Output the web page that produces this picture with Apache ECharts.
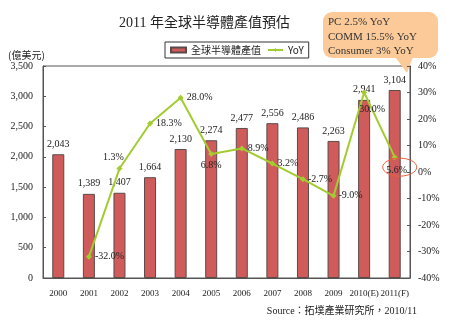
<!DOCTYPE html>
<html><head><meta charset="utf-8">
<script src="https://cdn.jsdelivr.net/npm/echarts@6/dist/echarts.min.js"></script>
<style>html,body{margin:0;padding:0;background:#fff}#c{width:450px;height:322px}</style>
</head><body><div id="c"></div>
<script>
var categories = ['2000','2001','2002','2003','2004','2005','2006','2007','2008','2009','2010(E)','2011(F)'];
var revenue = [2043,1389,1407,1664,2130,2274,2477,2556,2486,2263,2941,3104];
var yoy = [null,-32.0,1.3,18.3,28.0,6.8,8.9,3.2,-2.7,-9.0,30.0,5.6];
var leftTicks = {min:0,max:3500,interval:500};
var rightTicks = {min:-40,max:40,interval:10};
var notes = ['PC 2.5% YoY','COMM 15.5% YoY','Consumer 3% YoY'];

var SERIF = '"Liberation Serif","Times New Roman",serif';
var CJK = '"Noto Sans CJK TC","Noto Sans CJK SC",sans-serif';
var labelPos = [null,
  {position:'right',distance:3},
  {position:'top',offset:[-6,0],distance:3},
  {position:'right',distance:3},
  {position:'right',distance:3},
  {position:'bottom',distance:3},
  {position:'right',distance:3},
  {position:'right',distance:2},
  {position:'right',distance:2},
  {position:'right',distance:2},
  {position:'bottom',offset:[8,6],distance:3},
  {position:'bottom',offset:[2,2],distance:3}];
var yoyData = yoy.map(function(v,i){
  if(v===null) return null;
  return {value:v,label:labelPos[i]};
});
function fmt(n){return String(n).replace(/\B(?=(\d{3})+(?!\d))/g,',');}

var chart = echarts.init(document.getElementById('c'),null,{renderer:'canvas'});
var option = {
  animation:false,
  backgroundColor:'#fff',
  title:{text:'2011 年全球半導體產值預估',left:114,top:11,
    textStyle:{fontSize:14,fontWeight:'normal',color:'#222',fontFamily:SERIF+','+CJK}},
  legend:{left:165,top:42,padding:[3,5,3,5],borderColor:'#333',borderWidth:1,
    itemWidth:15,itemHeight:5,itemGap:6,
    textStyle:{fontSize:10,color:'#222',fontFamily:CJK},
    data:[{name:'全球半導體產值',icon:'rect'},{name:'YoY'}]},
  grid:{left:43,right:40,top:66,bottom:44,show:true,borderColor:'#555',borderWidth:1,backgroundColor:'transparent'},
  xAxis:{type:'category',data:categories,
    axisLine:{lineStyle:{color:'#555'}},
    axisTick:{inside:true,length:4,lineStyle:{color:'#555'}},
    axisLabel:{fontSize:9,color:'#222',fontFamily:SERIF,margin:11,interval:0}},
  yAxis:[{type:'value',min:leftTicks.min,max:leftTicks.max,interval:leftTicks.interval,
    axisLine:{show:true,lineStyle:{color:'#555'}},
    axisTick:{show:true,inside:true,length:3,lineStyle:{color:'#555'}},
    splitLine:{show:false},
    axisLabel:{fontSize:10,color:'#222',fontFamily:SERIF,margin:10,formatter:function(v){return fmt(v);}}},
   {type:'value',min:rightTicks.min,max:rightTicks.max,interval:rightTicks.interval,position:'right',
    axisLine:{show:true,lineStyle:{color:'#555'}},
    axisTick:{show:true,inside:true,length:3,lineStyle:{color:'#555'}},
    splitLine:{show:false},
    axisLabel:{fontSize:10,color:'#222',fontFamily:SERIF,margin:8,formatter:'{value}%'}}],
  series:[
    {name:'全球半導體產值',type:'bar',data:revenue,barWidth:12,
     itemStyle:{color:'#d05b5b',borderColor:'#5a4a4a',borderWidth:1},
     label:{show:true,position:'top',distance:5,fontSize:10,color:'#222',fontFamily:SERIF,
       formatter:function(p){return fmt(p.value);}}},
    {name:'YoY',type:'line',yAxisIndex:1,data:yoyData,connectNulls:false,
     symbol:'diamond',symbolSize:6,
     lineStyle:{color:'#a2cc30',width:2},itemStyle:{color:'#a2cc30'},
     label:{show:true,fontSize:10,color:'#222',fontFamily:SERIF,
       formatter:function(p){return p.value.toFixed(1)+'%';}}}
  ]
};
chart.setOption(option);

var p11 = chart.convertToPixel({xAxisIndex:0,yAxisIndex:1},[categories.length-1,yoy[yoy.length-1]]);
chart.setOption({graphic:[
  {type:'text',left:8,top:50,style:{text:'(億美元)',fontSize:10,fill:'#222',fontFamily:CJK}},
  {type:'text',right:33,top:306,style:{text:'Source：拓墣產業研究所，2010/11',fontSize:10,fill:'#222',fontFamily:SERIF+','+CJK}},
  {type:'group',z:100,children:[
    {type:'polygon',shape:{points:[[393,54],[414,54],[407,73]]},style:{fill:'#fbca98'}},
    {type:'rect',shape:{x:323,y:12,width:115,height:46,r:9},style:{fill:'#fbca98'}},
    {type:'text',x:328,y:15,style:{text:notes.join('\n'),fontSize:11,lineHeight:14.5,fill:'#333',fontFamily:SERIF}}
  ]},
  {type:'ellipse',z:100,shape:{cx:p11[0]+5,cy:p11[1]+10,rx:17,ry:9},style:{fill:'none',stroke:'#e8603c',lineWidth:1}}
]});
</script></body></html>
